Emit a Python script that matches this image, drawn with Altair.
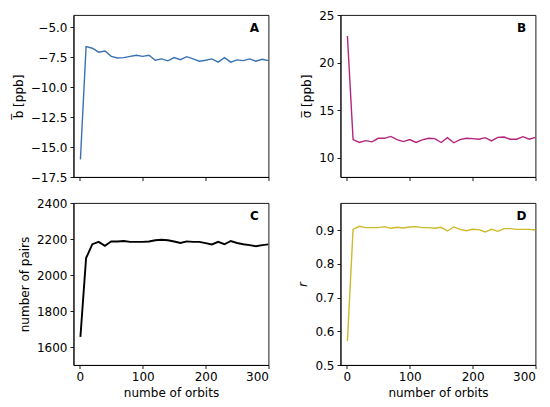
import altair as alt
import pandas as pd

orbits = [1] + list(range(10, 301, 10))

bias = [-16.03, -6.64, -6.77, -7.10, -7.00, -7.45, -7.58, -7.55, -7.45, -7.35,
        -7.45, -7.35, -7.77, -7.66, -7.82, -7.55, -7.72, -7.47, -7.66, -7.85,
        -7.77, -7.66, -7.93, -7.55, -7.93, -7.74, -7.80, -7.66, -7.85, -7.69, -7.80]
sigma = [22.8, 11.93, 11.62, 11.82, 11.69, 12.06, 12.06, 12.26, 11.93, 11.72,
         11.93, 11.62, 11.89, 12.06, 12.03, 11.62, 12.13, 11.59, 11.93, 12.06,
         12.03, 11.96, 12.13, 11.79, 12.16, 12.20, 11.96, 11.96, 12.23, 11.96, 12.16]
pairs = [1656, 2094, 2171, 2184, 2162, 2187, 2186, 2189, 2184, 2184,
         2184, 2186, 2193, 2196, 2193, 2186, 2178, 2187, 2184, 2184,
         2177, 2170, 2184, 2171, 2189, 2178, 2171, 2166, 2160, 2166, 2170]
corr = [0.571, 0.902, 0.911, 0.907, 0.907, 0.907, 0.910, 0.905, 0.908, 0.906,
        0.909, 0.910, 0.907, 0.907, 0.905, 0.908, 0.897, 0.909, 0.902, 0.898,
        0.902, 0.901, 0.894, 0.902, 0.896, 0.904, 0.904, 0.902, 0.902, 0.902, 0.900]

x_ticks = [0, 100, 200, 300]
W, H = 195, 162
FONT = "DejaVu Sans"


def panel(values, color, letter, ytitle, ydomain, yticks, yfmt, xtitle, show_xlabels,
          width=1.4, italic=False):
    df = pd.DataFrame({"orbits": orbits, "v": values})
    if show_xlabels:
        xaxis = alt.Axis(values=x_ticks, title=xtitle, grid=False, format="d")
    else:
        xaxis = alt.Axis(values=x_ticks, labels=False, title=None, grid=False)
    yaxis = alt.Axis(values=yticks, format=yfmt, title=ytitle, grid=False,
                     titleFontStyle="italic" if italic else "normal")
    line = alt.Chart(df).mark_line(color=color, strokeWidth=width, clip=True).encode(
        x=alt.X("orbits:Q", scale=alt.Scale(domain=[-10, 300], nice=False, zero=False), axis=xaxis),
        y=alt.Y("v:Q", scale=alt.Scale(domain=ydomain, nice=False, zero=False), axis=yaxis),
    )
    lab = alt.Chart(pd.DataFrame({"t": [letter]})).mark_text(
        fontWeight="bold", fontSize=12, font=FONT, color="black", align="center", baseline="middle"
    ).encode(text="t:N", x=alt.value(W - 14), y=alt.value(13))
    return alt.layer(line, lab).properties(width=W, height=H)


A = panel(bias, "#3a72b0", "A", "b\u0305  [ppb]", [-17.5, -4.0],
          [-17.5, -15.0, -12.5, -10.0, -7.5, -5.0], ".1f", None, False)
B = panel(sigma, "#b5247d", "B", "\u03c3\u0305 [ppb]", [8.0, 25.0],
          [10, 15, 20, 25], "d", None, False)
C = panel(pairs, "#000000", "C", "number of pairs", [1500, 2400],
          [1600, 1800, 2000, 2200, 2400], "d", "numbe of orbits", True, width=1.9)
D = panel(corr, "#cfb92c", "D", "r", [0.5, 0.98],
          [0.5, 0.6, 0.7, 0.8, 0.9], ".1f", "number of orbits", True, italic=True)

chart = alt.concat(A, B, C, D, columns=2, spacing={"row": 26, "column": 72}).properties(
    bounds="flush", padding={"left": 3.5, "top": 0, "right": 0, "bottom": 0}
).configure_view(
    stroke="black", strokeWidth=0.9
).configure_axis(
    labelFont=FONT, titleFont=FONT, labelFontSize=12, titleFontSize=12,
    labelColor="black", titleColor="black", titleFontWeight="normal",
    domainColor="black", tickColor="black", tickSize=3.5, domainWidth=0.9, tickWidth=0.9,
    labelPadding=3, titlePadding=5
)

chart.save("out.html", embed_options={"renderer": "svg", "actions": False})
